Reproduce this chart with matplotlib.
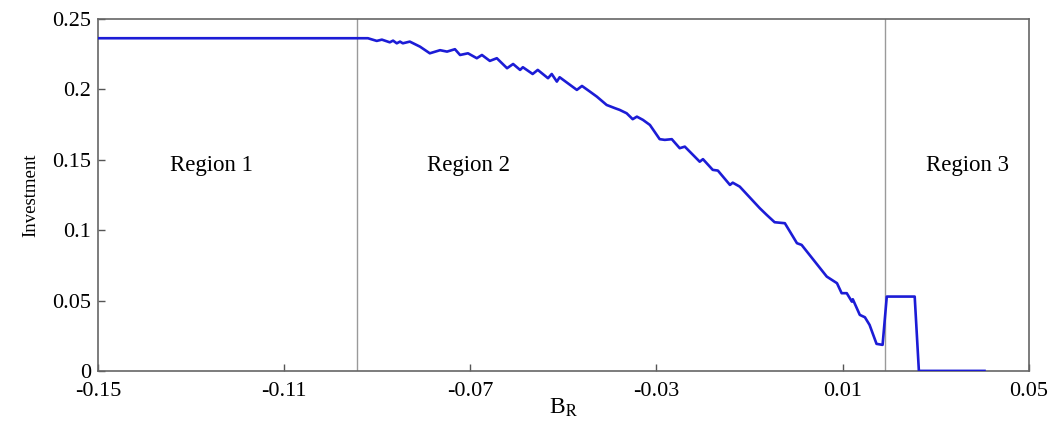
import numpy as np
import matplotlib
matplotlib.use('Agg')
import matplotlib.pyplot as plt

plt.rcParams['font.family'] = ['Liberation Serif', 'DejaVu Serif']
plt.rcParams['mathtext.fontset'] = 'stix'

# investment vs B_R
b_r = [-0.15, -0.0946, -0.0920, -0.0901, -0.0890, -0.0873, -0.0866, -0.0858,
       -0.0851, -0.0845, -0.0830, -0.0808, -0.0787, -0.0765, -0.0750, -0.0733,
       -0.0722, -0.0705, -0.0686, -0.0675, -0.0658, -0.0643, -0.0621, -0.0608,
       -0.0593, -0.0587, -0.0566, -0.0555, -0.0533, -0.0525, -0.0514, -0.0508,
       -0.0471, -0.0460, -0.0443, -0.0428, -0.0407, -0.0389, -0.0379, -0.0364,
       -0.0351, -0.0342, -0.0329, -0.0314, -0.0293, -0.0282, -0.0267, -0.0250,
       -0.0239, -0.0207, -0.0200, -0.0179, -0.0168, -0.0142, -0.0136, -0.0121,
       -0.0078, -0.0063, -0.0046, -0.0024, -0.0013, 0.0002, 0.0012, 0.0066,
       0.0088, 0.0098, 0.0109, 0.0120, 0.0122, 0.0137, 0.0148, 0.0158,
       0.0173, 0.0186, 0.0195, 0.0255, 0.0264, 0.0405]
investment = [0.2363, 0.2363, 0.2363, 0.2344, 0.2353, 0.2334, 0.2346, 0.2327,
              0.2339, 0.2327, 0.2339, 0.2303, 0.2256, 0.2278, 0.2268, 0.2285,
              0.2244, 0.2256, 0.2221, 0.2244, 0.2202, 0.2221, 0.2150, 0.2180,
              0.2138, 0.2157, 0.2109, 0.2138, 0.2079, 0.2109, 0.2055, 0.2086,
              0.1996, 0.2024, 0.1984, 0.1948, 0.1889, 0.1866, 0.1854, 0.1830,
              0.1788, 0.1806, 0.1783, 0.1747, 0.1646, 0.1641, 0.1646, 0.1582,
              0.1593, 0.1486, 0.1504, 0.1428, 0.1423, 0.1321, 0.1337, 0.1309,
              0.1156, 0.1108, 0.1056, 0.1049, 0.0989, 0.0907, 0.0895, 0.0670,
              0.0623, 0.0552, 0.0552, 0.0492, 0.0509, 0.0398, 0.0381, 0.0327,
              0.0192, 0.0185, 0.0528, 0.0528, 0.0, 0.0]

region_bounds = [-0.0944, 0.0191]
region_labels = ['Region 1', 'Region 2', 'Region 3']
label_x = [-0.1257, -0.0703, 0.0369]
label_y = 0.146

xticks = [-0.15, -0.11, -0.07, -0.03, 0.01, 0.05]
xtick_labels = ['-0.15', '-0.11', '-0.07', '-0.03', '0.01', '0.05']
yticks = [0, 0.05, 0.1, 0.15, 0.2, 0.25]
ytick_labels = ['0', '0.05', '0.1', '0.15', '0.2', '0.25']

fig = plt.figure(figsize=(10.54, 4.21), dpi=100)
ax = fig.add_axes([0.093, 0.119, 0.883, 0.836])

for xb in region_bounds:
    ax.axvline(xb, color='#9a9a9a', linewidth=1.0, zorder=1)
ax.plot(b_r, investment, color='#1c1cd6', linewidth=1.9, zorder=3)

for lbl, lx in zip(region_labels, label_x):
    ax.text(lx, label_y, lbl, fontsize=16.5, ha='center', va='center')

ax.set_xlim(-0.15, 0.05)
ax.set_ylim(0, 0.25)
ax.set_xticks(xticks)
ax.set_xticklabels(xtick_labels)
ax.set_yticks(yticks)
ax.set_yticklabels(ytick_labels)
ax.tick_params(direction='in', length=5, width=1, color='#555555',
               labelsize=16, top=False, right=False)
ax.tick_params(axis='x', pad=8)
ax.tick_params(axis='y', pad=5)
for sp in ax.spines.values():
    sp.set_color('#666666')
    sp.set_linewidth(1.2)

ax.set_xlabel(r'B$_\mathrm{R}$', fontsize=17, labelpad=-3)
ax.set_ylabel('Investment', fontsize=13.5, labelpad=9)

fig.savefig('out.png', dpi=100)
